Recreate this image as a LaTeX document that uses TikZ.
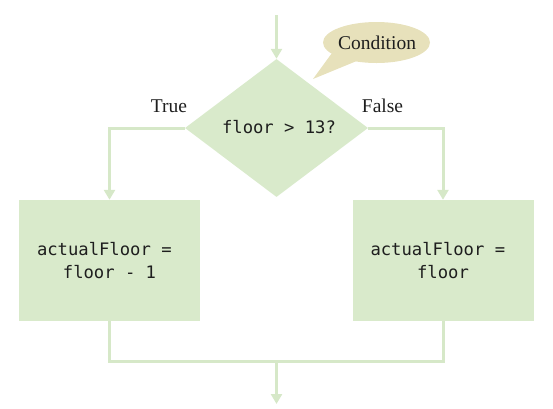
\documentclass[tikz,border=0pt]{standalone}
\usepackage{fontspec}
\setmainfont{Liberation Serif}
\newfontfamily\codefont{DejaVu Sans Mono}
\usetikzlibrary{shapes.geometric,arrows.meta}
\definecolor{flowgreen}{RGB}{217,234,203}
\definecolor{linegreen}{RGB}{214,232,200}
\definecolor{bubble}{RGB}{231,225,187}
\definecolor{ink}{RGB}{30,30,30}
\tikzset{
  decision/.style={diamond, fill=flowgreen, inner sep=0pt, minimum width=183pt, minimum height=138pt, shape aspect=1.33},
  stepbox/.style={rectangle, fill=flowgreen, inner sep=0pt, minimum width=181pt, minimum height=121pt, align=center},
  codetext/.style={text=ink, font=\codefont\fontsize{17.2}{23}\selectfont},
  labeltext/.style={text=ink, font=\fontsize{19.5}{23}\selectfont},
  flow/.style={draw=linegreen, line width=3pt},
  flowarrow/.style={flow, -{Triangle[width=11pt,length=10pt]}},
}
\begin{document}
\begin{tikzpicture}[x=1pt,y=-1pt]
\useasboundingbox (0,0) rectangle (553,408);
% callout
\node[ellipse, fill=bubble, minimum width=107pt, minimum height=41pt, inner sep=0pt] (cond) at (376.5,42.5) {};
\coordinate (tailtip) at (313,79);
\fill[bubble] (cond.center) -- (cond.194) -- (tailtip) -- (cond.222) -- cycle;
\node[labeltext] (condtext) at (377,42.5) {Condition};
% decision
\node[decision] (dec) at (276.5,128) {};
\node[codetext] (dectext) at (279,127) {floor > 13?};
\coordinate (entry) at (276.5,15);
\draw[flowarrow] (entry) -- (dec.north);
% labels
\node[labeltext, anchor=base] (truelab) at (169,112) {True};
\node[labeltext, anchor=base] (falselab) at (382.5,112) {False};
% boxes
\node[stepbox] (left) at (109.5,260.5) {};
\node[codetext, align=center] (lefttext) at (left.center) {actualFloor =\phantom{x}\\floor - 1};
\node[stepbox] (right) at (443,260.5) {};
\node[codetext, align=center] (righttext) at (right.center) {actualFloor =\phantom{x}\\floor};
% branches
\draw[flowarrow] (dec.west) -| (left.north);
\draw[flowarrow] (dec.east) -| (right.north);
% merge
\coordinate (mergeL) at (left.south |- 0,361);
\coordinate (mergeR) at (right.south |- 0,361);
\coordinate (mergeC) at (276.5,361);
\coordinate (exit) at (276.5,404);
\draw[flow, line join=miter] (left.south) -- (mergeL) -- (mergeR) -- (right.south);
\draw[flowarrow] (mergeC) -- (exit);
\end{tikzpicture}
\end{document}
